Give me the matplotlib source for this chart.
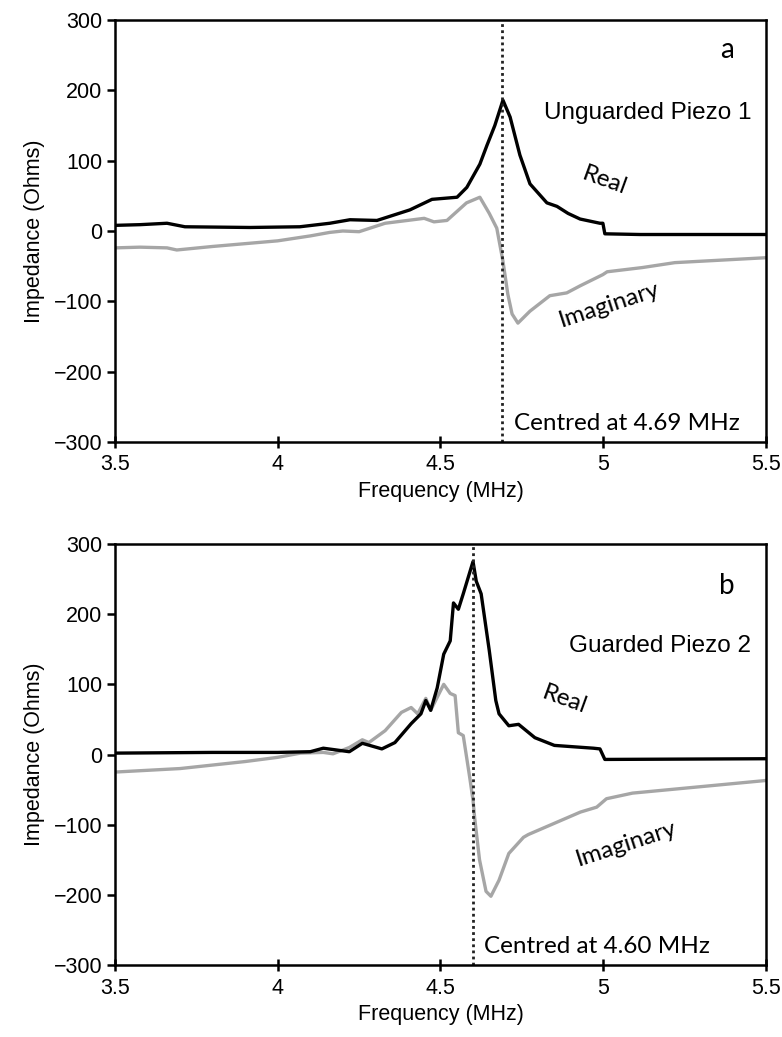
import numpy as np
import matplotlib
matplotlib.use('Agg')
import matplotlib.pyplot as plt

plt.rcParams['font.family'] = ['Liberation Sans', 'DejaVu Sans']

# Panel a: unguarded piezo 1
a_real_f = [3.5, 3.577, 3.66, 3.715, 3.915, 4.068, 4.16, 4.222, 4.305, 4.406, 4.474, 4.551, 4.581,
            4.621, 4.643, 4.667, 4.692, 4.714, 4.744, 4.775, 4.827, 4.858, 4.892, 4.929, 4.99, 4.999,
            5.005, 5.113, 5.5]
a_real = [8, 9, 11, 6, 5, 6, 11, 16, 15, 30, 45, 48, 62,
          95, 122, 150, 186, 162, 108, 67, 40, 35, 25, 17, 11, 11,
          -4, -5, -5]
a_imag_f = [3.5, 3.577, 3.66, 3.69, 3.8, 4.0, 4.1, 4.16, 4.2, 4.25, 4.33, 4.45, 4.48, 4.52, 4.58,
            4.621, 4.65, 4.673, 4.692, 4.707, 4.72, 4.738, 4.775, 4.836, 4.888, 4.929, 4.999,
            5.012, 5.12, 5.22, 5.5]
a_imag = [-24, -23, -24, -27, -22, -14, -7, -2, 0, -1, 11, 18, 13, 15, 40,
          48, 25, 4, -43, -90, -118, -131, -114, -92, -88, -78, -62,
          -58, -52, -45, -38]

# Panel b: guarded piezo 2
b_real_f = [3.5, 3.8, 4.0, 4.1, 4.14, 4.22, 4.26, 4.32, 4.36, 4.41, 4.44, 4.455, 4.47, 4.49, 4.51,
            4.53, 4.54, 4.555, 4.57, 4.60, 4.61, 4.625, 4.65, 4.67, 4.68, 4.71, 4.74, 4.79, 4.85,
            4.97, 4.99, 5.005, 5.5]
b_real = [2, 3, 3, 4, 9, 4, 16, 8, 17, 44, 58, 77, 63, 95, 143,
          162, 216, 207, 229, 275, 247, 229, 148, 77, 58, 41, 43, 24, 13,
          9, 8, -7, -6]
b_imag_f = [3.5, 3.7, 3.9, 4.0, 4.07, 4.14, 4.17, 4.22, 4.26, 4.28, 4.33, 4.38, 4.41, 4.43, 4.455,
            4.47, 4.51, 4.53, 4.545, 4.555, 4.57, 4.59, 4.60, 4.605, 4.62, 4.64, 4.655, 4.68,
            4.71, 4.755, 4.77, 4.82, 4.88, 4.93, 4.98, 5.0, 5.01, 5.09, 5.5]
b_imag = [-25, -20, -10, -4, 2, 3, 1, 10, 21, 17, 34, 60, 67, 58, 80,
          63, 100, 87, 84, 31, 27, -33, -65, -90, -150, -195, -202, -179,
          -141, -118, -114, -104, -92, -82, -75, -67, -63, -55, -37]

panels = [
    dict(real_f=a_real_f, real=a_real, imag_f=a_imag_f, imag=a_imag, centre=4.69,
         letter='a', letter_y=258, title='Unguarded Piezo 1', title_y=168,
         real_xy=(5.005, 72), imag_xy=(5.02, -105)),
    dict(real_f=b_real_f, real=b_real, imag_f=b_imag_f, imag=b_imag, centre=4.60,
         letter='b', letter_y=240, title='Guarded Piezo 2', title_y=154,
         real_xy=(4.88, 78), imag_xy=(5.07, -128)),
]

fig = plt.figure(figsize=(7.82, 10.37), dpi=100)
boxes = [[0.147, 0.5738, 0.8325, 0.4069], [0.147, 0.0694, 0.8325, 0.406]]
alt_font = ['Lato', 'DejaVu Sans']

for box, p in zip(boxes, panels):
    ax = fig.add_axes(box)
    ax.plot(p['imag_f'], p['imag'], color='#a6a6a6', lw=2.4)
    ax.plot(p['real_f'], p['real'], color='black', lw=2.4)
    ax.axvline(p['centre'], color='#222222', ls=(0, (1, 1.2)), lw=2)
    ax.set_xlim(3.5, 5.5)
    ax.set_ylim(-300, 300)
    ax.set_xticks([3.5, 4, 4.5, 5, 5.5])
    ax.set_xticklabels(['3.5', '4', '4.5', '5', '5.5'])
    ax.set_yticks(np.arange(-300, 301, 100))
    ax.tick_params(axis='both', labelsize=15.5, width=1.8, length=6, pad=3)
    ax.tick_params(axis='x', direction='inout', length=8, pad=5)
    for s in ax.spines.values():
        s.set_linewidth(1.8)
    ax.set_xlabel('Frequency (MHz)', fontsize=15.5, labelpad=4)
    ax.set_ylabel('Impedance (Ohms)', fontsize=15.5, labelpad=6)

    ax.text(5.38, p['letter_y'], p['letter'], fontsize=20, family=alt_font, ha='center', va='center')
    ax.text(5.455, p['title_y'], p['title'], fontsize=17.5, ha='right', va='center')
    ax.text(p['real_xy'][0], p['real_xy'][1], 'Real', fontsize=17.5, family=alt_font,
            rotation=-20, ha='center', va='center')
    ax.text(p['imag_xy'][0], p['imag_xy'][1], 'Imaginary', fontsize=17.5, family=alt_font,
            rotation=18, ha='center', va='center')
    ax.text(p['centre'] + 0.035, -274, 'Centred at %.2f MHz' % p['centre'], fontsize=17.5,
            family=alt_font, ha='left', va='center')

fig.savefig('out.png', dpi=100)
